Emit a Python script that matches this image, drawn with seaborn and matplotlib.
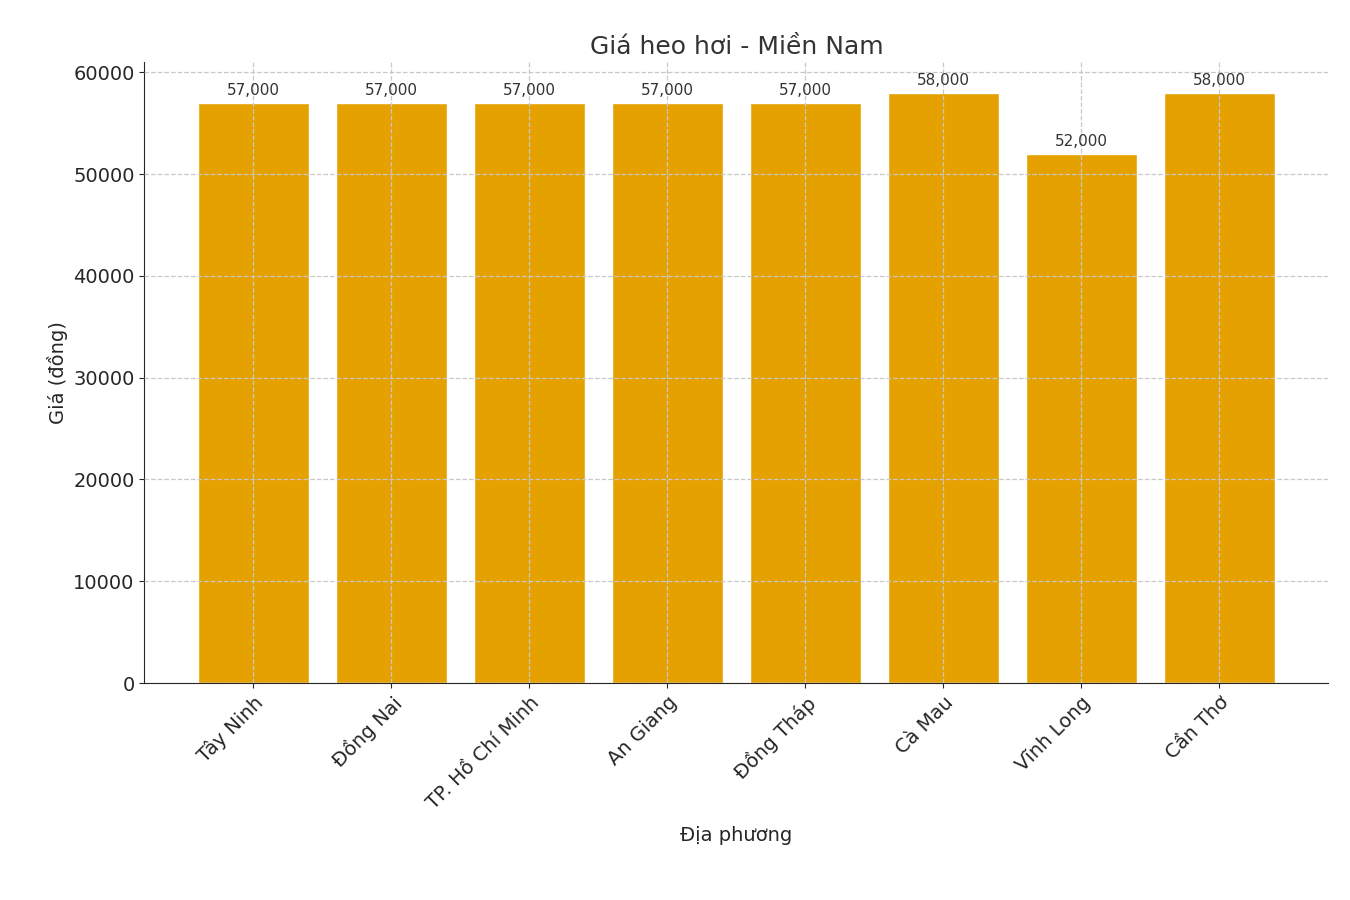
import matplotlib
matplotlib.use("Agg")
import matplotlib.pyplot as plt
import seaborn as sns
import pandas as pd

regions = ["Tây Ninh", "Đồng Nai", "TP. Hồ Chí Minh", "An Giang", "Đồng Tháp", "Cà Mau", "Vĩnh Long", "Cần Thơ"]
prices = [57000, 57000, 57000, 57000, 57000, 58000, 52000, 58000]

sns.set_style("ticks")
plt.rcParams['font.family'] = ['DejaVu Sans']
df = pd.DataFrame({"region": regions, "price": prices})

fig, ax = plt.subplots(figsize=(13.5, 9), dpi=100)
fig.subplots_adjust(left=0.107, right=0.984, top=0.931, bottom=0.241)
sns.barplot(data=df, x="region", y="price", color="#E5A100", saturation=1, width=0.8, ax=ax)
ax.set_xlim(-0.79, 7.79)
ax.set_ylim(0, 61000)
ax.grid(True, linestyle="--", color="#c8c8c8", linewidth=0.9)
ax.set_axisbelow(False)
for p, v in zip(ax.patches, prices):
    ax.text(p.get_x() + p.get_width() / 2, v + 500, f"{v:,}", ha="center", va="bottom", fontsize=11, color="#333333")
ax.set_title("Giá heo hơi - Miền Nam", fontsize=18, color="#333333")
ax.set_xlabel("Địa phương", fontsize=14, labelpad=10)
ax.set_ylabel("Giá (đồng)", fontsize=14)
ax.tick_params(labelsize=14)
plt.setp(ax.get_xticklabels(), rotation=45, ha="right", rotation_mode="anchor")
sns.despine(ax=ax)
fig.savefig("out.png", dpi=100)
